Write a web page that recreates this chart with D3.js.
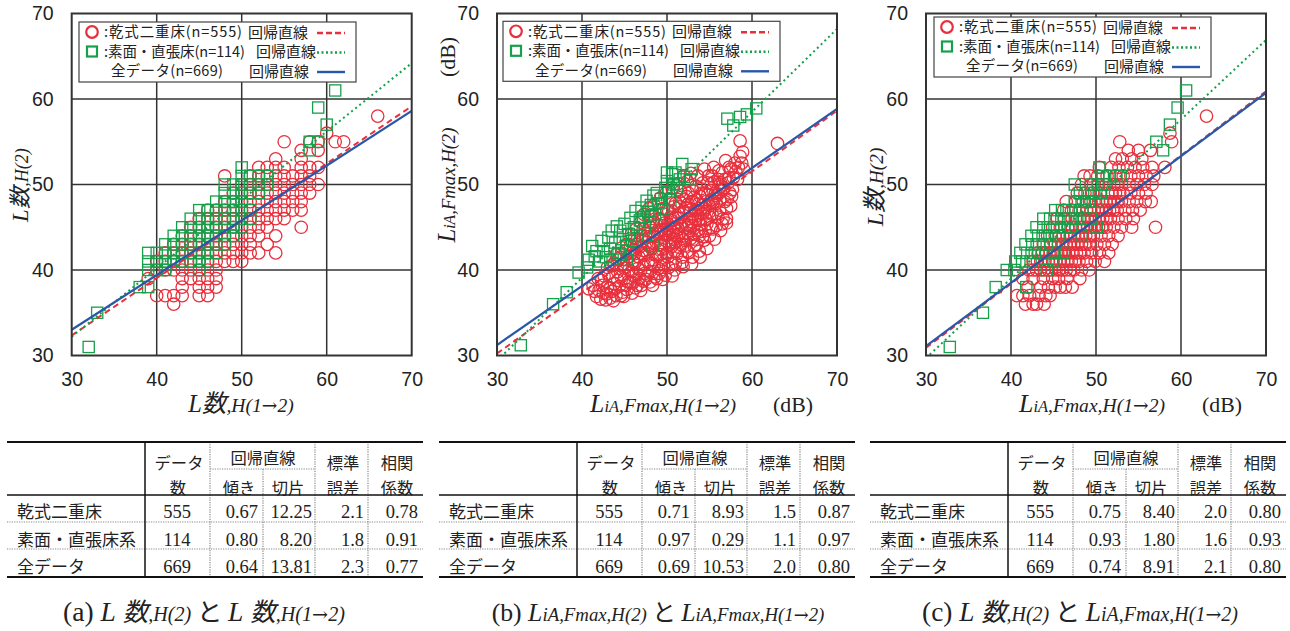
<!DOCTYPE html>
<html><head><meta charset="utf-8">
<script src="https://cdn.jsdelivr.net/npm/d3@7"></script>
<style>
body{margin:0;background:#fff;}
svg{display:block;}
text{white-space:pre;}
</style></head><body>
<svg id="c" width="1290" height="631"></svg>
<script>
// ---------------- DATA ----------------
const ticks = [30, 40, 50, 60, 70];
const groups = ["乾式二重床", "素面・直張床系", "全データ"];
const legendNames = [":乾式二重床(n=555)", ":素面・直張床(n=114)", "全データ(n=669)"];
const lineLabel = "回帰直線";
const counts = [555, 114, 669];

const slopeA = [0.67, 0.80, 0.64], interceptA = [12.25, 8.20, 13.81], seA = [2.1, 1.8, 2.3], rA = [0.78, 0.91, 0.77];
const slopeB = [0.71, 0.97, 0.69], interceptB = [8.93, 0.29, 10.53], seB = [1.5, 1.1, 2.0], rB = [0.87, 0.97, 0.80];
const slopeC = [0.75, 0.93, 0.74], interceptC = [8.40, 1.80, 8.91], seC = [2.0, 1.6, 2.1], rC = [0.80, 0.93, 0.80];

// (a) integer grid: [x, [y values]]
const redA_cols = [
 [39,[39]],[40,[37,40,41]],[41,[37,40,41,42]],[42,[36,37,40,41,42,43]],
 [43,[37,38,39,40,41,42,43,44]],[44,[39,40,41,42,43,44,45]],
 [45,[37,38,39,40,41,42,43,44,45,46]],[46,[37,38,39,40,41,42,43,44,45,46,47]],
 [47,[38,39,40,41,42,43,44,45,46,47]],[48,[41,42,43,44,45,46,47,48,51]],
 [49,[41,42,43,44,45,46,47,48,49]],[50,[41,42,43,44,45,46,47,48,49,50]],
 [51,[42,43,44,45,46,47,48,49,50,51]],[52,[42,44,45,46,47,48,49,50,51,52]],
 [53,[43,45,46,47,48,49,50,51,52]],[54,[42,44,46,47,48,49,50,51,52,53]],
 [55,[46,47,48,49,50,51,52,55]],[56,[47,48,49,50,51]],
 [57,[45,47,48,49,50,51,52,53,54]],[58,[49,50,51,52,55]],[59,[50,52,54,55]],
 [60,[56]],[61,[55]],[62,[55]],[66,[58]]
];
const greenA_cols = [
 [32,[31]],[33,[35]],[38,[38]],[39,[38,40,41,42]],[40,[40,41,42]],[41,[40,41,42,43]],
 [42,[41,42,43,44]],[43,[41,42,43,44,45]],[44,[41,42,43,44,45,46]],
 [45,[40,41,42,43,44,45,46,47]],[46,[41,42,43,44,45,46,47]],[47,[42,43,44,45,46,47,48]],
 [48,[43,44,45,46,47,48,49,50]],[49,[44,45,46,47,48,49,50]],[50,[45,46,47,48,49,50,51,52]],
 [51,[46,47,49,50,51]],[52,[49,50,51]],[53,[50,51]],[58,[54,55]],[59,[55,59]],[60,[57]],[61,[61]]
];

// (b) continuous [x, y]
const redB = [
[40.8,37.8],[41.3,38.2],[41.7,36.9],[41.9,39.0],[42.0,37.6],[42.3,38.8],[42.5,37.3],[42.6,39.3],[42.8,36.5],[43.0,38.0],[43.1,39.6],[43.3,36.7],[43.5,37.5],[43.6,39.2],[43.8,38.4],[44.0,37.0],[44.2,39.8],[44.3,41.3],[44.4,38.1],[44.6,40.5],[44.8,37.4],[44.9,40.7],[45.0,39.0],[45.2,41.2],[45.3,37.7],[45.4,38.6],[45.5,40.0],[45.6,41.6],[45.7,38.6],[45.9,42.0],[46.0,39.4],[46.1,42.4],[46.2,40.8],[46.3,37.9],[46.4,43.0],[46.5,38.2],[46.6,40.2],[46.7,41.5],[46.9,39.9],[47.0,44.0],[47.1,43.4],[47.2,42.3],[47.3,40.6],[47.4,41.7],[47.5,38.9],[47.6,43.2],[47.7,39.4],[47.8,41.0],[47.9,42.8],[48.0,45.0],[48.0,39.8],[48.1,46.4],[48.2,42.5],[48.3,41.2],[48.4,44.0],[48.5,40.5],[48.6,43.9],[48.7,43.3],[48.8,45.2],[48.9,41.6],[49.0,46.0],[49.0,40.2],[49.1,39.6],[49.2,43.0],[49.3,44.7],[49.4,42.4],[49.5,41.2],[49.6,40.6],[49.6,47.2],[49.7,45.5],[49.8,44.1],[49.9,43.4],[50.0,47.0],[50.0,42.0],[50.1,41.5],[50.2,44.2],[50.3,43.0],[50.3,48.3],[50.4,46.2],[50.5,42.7],[50.6,40.8],[50.7,44.4],[50.8,45.0],[50.9,43.6],[51.0,47.8],[51.0,43.2],[51.1,45.5],[51.2,41.9],[51.3,44.8],[51.4,46.6],[51.5,42.6],[51.6,43.0],[51.6,49.2],[51.7,48.5],[51.8,40.9],[51.9,46.9],[52.0,45.6],[52.0,43.5],[52.1,44.0],[52.2,47.3],[52.3,45.0],[52.4,42.2],[52.4,50.4],[52.5,49.0],[52.6,46.0],[52.7,44.6],[52.8,43.7],[52.9,48.0],[53.0,41.5],[53.0,46.3],[53.1,45.2],[53.2,44.2],[53.3,47.0],[53.4,49.8],[53.5,43.0],[53.6,46.4],[53.6,51.0],[53.7,45.8],[53.8,42.2],[53.9,48.6],[54.0,44.5],[54.0,46.0],[54.1,47.6],[54.2,50.2],[54.3,46.9],[54.4,43.5],[54.4,51.8],[54.5,49.0],[54.6,48.0],[54.7,45.4],[54.9,51.0],[55.0,44.0],[55.0,46.8],[55.1,49.3],[55.2,48.2],[55.3,46.5],[55.4,47.8],[55.5,52.0],[55.6,50.3],[55.7,49.0],[55.8,45.2],[55.9,48.7],[56.0,48.9],[56.1,51.6],[56.2,47.0],[56.3,50.2],[56.4,49.8],[56.6,46.0],[56.8,50.6],[56.9,52.8],[57.0,46.0],[57.1,48.3],[57.2,50.2],[57.3,52.0],[57.5,51.8],[57.7,49.4],[58.0,52.5],[58.3,50.6],[58.6,53.3],[58.6,55.1],[58.8,52.5],[59.0,51.8],[63.0,54.8],
[43.5,40.5],[44.0,41.8],[44.7,42.6],[45.3,43.0],[45.8,44.2],[46.4,44.8],[46.9,45.6],[47.3,46.5],[47.9,47.2],[48.5,47.6],[49.2,48.4],[49.9,49.0],[50.6,49.6],[51.3,50.1],[52.0,51.0],[52.8,51.3],
[46.0,38.5],[47.0,38.2],[48.0,38.6],[48.8,39.0],[49.8,39.4],[50.9,40.0],[51.9,40.4],[52.9,40.7],[53.9,41.5],[54.7,42.5],[55.6,43.6],[56.3,44.6],[57.0,45.5],
[45.0,40.2],[46.0,41.0],[47.0,41.9],[47.9,43.9],[48.4,45.6],[49.0,44.5],[49.5,45.8],[50.0,44.8],[50.5,45.8],[51.0,46.2],[51.5,47.4],[52.0,48.2],[52.5,47.7],[53.0,49.3],[53.5,48.2],[54.0,49.5],[54.8,50.2],[55.3,51.0],[56.5,51.4],[57.8,50.8],[57.5,47.5],[56.8,48.0],[56.0,46.2],[55.2,45.0],[54.5,44.6],[53.8,44.0],[53.2,42.8],[52.5,42.0],[51.8,41.5],[51.0,40.8],[50.2,40.3],[49.3,40.0],[48.6,39.2],[47.4,39.6],[46.7,39.0],[45.8,39.8],[44.6,39.2],[43.9,37.8],[42.9,37.2],[42.2,36.6],[43.7,36.4],[44.9,36.9],[46.9,37.6],[48.1,40.8],[49.2,41.8],[50.4,43.8],[51.4,44.2],[52.6,45.2],[53.4,45.9],[54.2,46.6],[55.0,47.5],[55.8,47.8],[56.6,49.4],[57.4,49.0],[58.1,51.5],[58.9,53.8],[58.4,52.0],
[46.2,41.9],[46.5,43.6],[46.8,42.7],[47.2,44.8],[47.5,43.9],[47.7,42.0],[47.9,45.6],[48.2,44.6],[48.4,43.1],[48.6,41.8],[48.9,44.2],[49.1,45.9],[49.3,42.9],[49.5,46.6],[49.7,44.6],[49.9,41.9],[50.1,45.4],[50.2,46.9],[50.4,44.9],[50.6,43.3],[50.8,47.4],[50.9,42.2],[51.1,44.0],[51.3,46.1],[51.5,48.0],[51.7,45.1],[51.8,43.7],[52.0,46.7],[52.2,42.9],[52.3,48.6],[52.5,44.3],[52.7,47.0],[52.9,45.6],[53.1,43.6],[53.2,48.5],[53.4,46.9],[53.5,44.6],[53.7,47.7],[53.9,45.3],[54.1,49.0],[54.2,43.9],[54.4,47.2],[54.6,45.9],[54.8,48.8],[55.0,46.2],[55.2,50.1],[55.4,44.8],[55.6,48.4],[55.8,46.6],[56.0,50.6],[56.2,48.1],[56.5,45.4],[56.7,49.6],[57.0,47.2],[57.3,50.8],[57.6,48.6],[43.0,40.3],[43.8,40.8],[44.5,41.5],[45.1,42.2],[45.7,42.9],[46.2,43.7],[44.2,38.8],[45.2,38.2],[46.4,39.6],[47.2,38.7],[48.3,38.2],[49.5,38.9],[50.6,39.3],[42.4,38.2],[41.5,37.5],[43.3,37.9],[44.6,37.0],[45.9,37.3]
];
const greenB = [
[32.8,31.2],[36.6,36.0],[38.2,37.4],[39.6,39.7],[40.6,40.3],[40.8,41.2],[41.2,42.8],[41.5,41.6],[41.7,42.2],[42.0,41.0],[42.3,43.4],[42.5,42.2],[42.8,41.5],[43.1,43.8],[43.3,42.5],[43.5,44.6],[43.6,41.2],[43.9,43.2],[44.1,45.1],[44.3,42.0],[44.5,44.6],[44.6,41.8],[44.8,43.6],[45.0,45.4],[45.2,42.8],[45.3,41.2],[45.5,44.2],[45.7,46.1],[45.9,43.4],[46.1,45.0],[46.3,46.9],[46.5,44.0],[46.8,45.8],[47.0,47.3],[47.2,46.2],[47.4,44.9],[47.6,48.1],[47.8,46.8],[48.0,45.6],[48.1,47.6],[48.4,48.7],[48.3,42.8],[48.6,46.5],[48.8,49.0],[49.0,47.8],[49.3,48.3],[49.6,47.1],[49.8,49.6],[50.0,50.4],[50.0,51.4],[50.2,49.2],[50.4,48.2],[50.6,51.2],[50.8,50.0],[51.0,51.4],[51.2,49.6],[51.5,50.6],[51.8,52.4],[52.0,50.9],[52.7,50.6],[52.9,51.8],[57.1,57.7],[57.8,56.9],[58.6,57.9],[59.4,58.2],[60.5,58.9]
];

// (c) y integer rows: [y, [x values]]
const redC_rows = [
 [36,[41.7,42.6,43.0,43.9]],[37,[40.7,41.4,42.2,43.3,44.1,44.6]],
 [38,[42.0,43.5,44.4,45.2,45.8,46.4,47.2]],[39,[41.4,42.6,43.8,44.9,45.6,46.6,48.1]],
 [40,[42.1,42.6,43.0,43.5,43.9,44.4,44.8,45.3,45.7,46.1,46.5,47.0,47.4,48.3,49.2]],
 [41,[42.6,43.1,43.5,44.0,44.4,44.9,45.3,45.8,46.2,46.7,47.1,47.6,48.0,48.9,49.9,51.0]],
 [42,[43.2,43.7,44.1,44.6,45.0,45.5,45.9,46.4,46.8,47.3,47.7,48.2,48.6,49.5,50.4,51.5]],
 [43,[43.8,44.7,45.2,45.6,46.1,46.5,47.0,47.4,47.9,48.3,48.8,49.2,50.1,51.0,51.9]],
 [44,[44.3,45.2,45.7,46.1,46.6,47.0,47.5,47.9,48.4,48.8,49.3,49.7,50.6,51.5,52.6]],
 [45,[44.9,45.8,46.7,47.2,47.6,48.1,48.5,49.0,49.4,49.9,50.3,50.8,51.2,52.1,53.0,54.2,57.0]],
 [46,[45.4,46.3,47.2,48.1,48.6,49.0,49.5,49.9,50.4,50.8,51.3,51.7,52.6,53.5,54.4]],
 [47,[46.2,47.1,48.0,48.9,49.4,49.8,50.3,50.7,51.2,51.6,52.1,52.5,53.4,54.3,55.2]],
 [48,[46.5,47.6,48.5,49.4,50.3,50.8,51.2,51.7,52.1,52.6,53.0,53.9,54.8,55.8,56.5]],
 [49,[47.8,48.7,49.6,50.5,51.4,51.9,52.3,52.8,53.2,54.1,55.0,55.9]],
 [50,[48.3,49.4,50.3,51.2,52.1,52.6,53.0,53.9,54.8,55.7,56.6]],
 [51,[48.6,49.3,50.2,51.3,52.3,53.2,54.1,55.0,55.9,56.8]],
 [52,[50.4,51.8,52.7,53.7,54.6,55.5,56.6,58.1]],
 [53,[52.3,53.1,54.2,55.4]],[54,[53.8,55.0,56.4]],[55,[52.8,58.9]],[56,[58.7]],[58,[63.0]]
];
const greenC = [
[32.8,31],[36.7,35],[38.2,38],[39.5,40],[40.4,40],[41.8,38],[40.5,41],[41.3,41],[42.3,41],[41.1,42],[41.9,42],[42.8,42],[43.6,42],[41.7,43],[42.5,43],[43.3,43],[44.2,43],[42.4,44],[43.2,44],[44.0,44],[44.8,44],[45.6,44],[43.0,45],[43.8,45],[44.6,45],[45.4,45],[46.3,45],[47.0,45],[50.1,45],[43.8,46],[44.6,46],[45.4,46],[46.2,46],[47.0,46],[47.8,46],[48.6,46],[49.4,46],[45.2,47],[46.0,47],[46.8,47],[47.6,47],[48.4,47],[44.2,40],[45.0,41],[46.2,42],[45.2,42],[44.6,43],[48.3,44],[47.5,48],[48.3,48],[49.2,48],[50.0,48],[48.1,49],[49.0,49],[49.8,49],[50.6,49],[47.5,50],[49.4,50],[50.2,50],[51.0,50],[51.6,51],[52.4,51],[52.9,51],[50.8,51],[50.4,52],[57.1,55],[57.9,54],[58.7,57],[59.6,59],[60.6,61]
];

// ---------------- RENDER ----------------
const redA = redA_cols.flatMap(([x, ys]) => ys.map(y => [x, y]));
const greenA = greenA_cols.flatMap(([x, ys]) => ys.map(y => [x, y]));
const redC = redC_rows.flatMap(([y, xs]) => xs.map(x => [x, y]));

const serif = "'Liberation Serif','Times New Roman',serif";
const cjk = "'Noto Sans CJK JP','Noto Sans CJK SC',sans-serif";
const sans = "'Liberation Sans',Arial,sans-serif";
const arrowFont = "'DejaVu Serif',serif";
const RED = "#e8303d", GREEN = "#15a04a", BLUE = "#2a58a8";
const lineColors = [RED, GREEN, BLUE];
const lineDash = ["6,4", "2,3.2", null];

const svg = d3.select("#c");
const PT = 13.5, PB = 355.5, PW = 340;

function fit(t, target) {
  const w = t.node().getBBox().width;
  if (!w) return t;
  const k = target / w;
  const ts = t.selectAll("tspan");
  if (ts.size()) ts.each(function () { this.setAttribute("font-size", (+this.getAttribute("font-size")) * k); });
  else t.attr("font-size", (+t.attr("font-size")) * k);
  return t;
}

function rich(g, x, y, parts, opts = {}) {
  const t = g.append("text").attr("x", x).attr("y", y)
    .attr("text-anchor", opts.anchor || "middle").attr("fill", "#222");
  if (opts.rotate) t.attr("transform", `rotate(-90,${x},${y})`);
  parts.forEach(p => {
    p[0].split(/(→)/).filter(s => s.length).forEach(s => {
      const isA = s === "→";
      t.append("tspan").text(s).attr("font-size", isA ? p[1] * 0.95 : p[1])
        .attr("font-family", isA ? arrowFont : p[2])
        .attr("font-style", (p[3] && !isA) ? "italic" : "normal");
    });
  });
  if (opts.width) fit(t, opts.width);
  return t;
}

const xTA = [["L",25,serif,1],["数",25,cjk,1],[",H(1→2)",20,serif,1]];
const yTA = [["L",25,serif,1],["数",25,cjk,1],[",H(2)",20,serif,1]];
const xTB = [["L",25,serif,1],["iA",16,serif,1],[",Fmax,H(1→2)",19,serif,1]];
const yTB = [["L",25,serif,1],["iA",16,serif,1],[",Fmax,H(2)",19,serif,1]];

const panels = [
  { id: "a", left: 71.7, red: redA, green: greenA, slope: slopeA, icpt: interceptA, se: seA, r: rA,
    leg: [7.3, 8.5], tab: 7, capX: 204, capW: 282,
    xT: [241, xTA, 107], xDB: null, yT: [28, 185, yTA, 75], yDB: null,
    cap: [["(a) ",26,serif,0],["L",26,serif,1],[" ",26,serif,0],["数",24,cjk,1],[",H(2)",19,serif,1],[" と ",24,cjk,0],["L",26,serif,1],[" ",26,serif,0],["数",24,cjk,1],[",H(1→2)",19,serif,1]] },
  { id: "b", left: 497, red: redB, green: greenB, slope: slopeB, icpt: interceptB, se: seB, r: rB,
    leg: [6, 7.8], tab: 439, capX: 658, capW: 333,
    xT: [663, xTB, 147], xDB: 793, yT: [455, 185, yTB, 116], yDB: [455, 57],
    cap: [["(b) ",26,serif,0],["L",26,serif,1],["iA,Fmax,H(2)",19,serif,1],[" と ",24,cjk,0],["L",26,serif,1],["iA,Fmax,H(1→2)",19,serif,1]] },
  { id: "c", left: 926, red: redC, green: greenC, slope: slopeC, icpt: interceptC, se: seC, r: rC,
    leg: [8, 3.5], tab: 870, capX: 1080, capW: 316,
    xT: [1092, xTB, 147], xDB: 1222, yT: [883, 187, yTA, 80], yDB: null,
    cap: [["(c) ",26,serif,0],["L",26,serif,1],[" ",26,serif,0],["数",24,cjk,1],[",H(2)",19,serif,1],[" と ",24,cjk,0],["L",26,serif,1],["iA,Fmax,H(1→2)",19,serif,1]] }
];

const rowY = [10, 29.5, 49], tx1 = [25, 25, 32], tx2 = [169, 177, 170];
const txLen1 = [138, 141, 112];

panels.forEach(p => {
  const x = d3.scaleLinear().domain([30, 70]).range([p.left, p.left + PW]);
  const y = d3.scaleLinear().domain([30, 70]).range([PB, PT]);
  const g = svg.append("g");

  ticks.slice(1, -1).forEach(v => {
    g.append("line").attr("x1", x(v)).attr("x2", x(v)).attr("y1", PT).attr("y2", PB)
      .attr("stroke", "#333").attr("stroke-width", 1.5);
    g.append("line").attr("x1", p.left).attr("x2", p.left + PW).attr("y1", y(v)).attr("y2", y(v))
      .attr("stroke", "#333").attr("stroke-width", 1.5);
  });

  const ya = g.append("g").attr("transform", `translate(${p.left},0)`)
    .call(d3.axisLeft(y).tickValues(ticks).tickSize(0).tickPadding(18));
  ya.select(".domain").remove();
  ya.selectAll("text").attr("font-size", 19.5).attr("font-family", sans).attr("fill", "#222");
  const xa = g.append("g").attr("transform", `translate(0,${PB})`)
    .call(d3.axisBottom(x).tickValues(ticks).tickSize(0).tickPadding(17));
  xa.select(".domain").remove();
  xa.selectAll("text").attr("font-size", 19.5).attr("font-family", sans).attr("fill", "#222");

  const cid = "clip" + p.id;
  svg.append("clipPath").attr("id", cid).append("rect")
    .attr("x", p.left).attr("y", PT).attr("width", PW).attr("height", PB - PT);
  const pg = g.append("g").attr("clip-path", `url(#${cid})`);

  pg.selectAll("circle.r").data(p.red).join("circle").attr("class", "r")
    .attr("cx", d => x(d[0])).attr("cy", d => y(d[1])).attr("r", 6.2)
    .attr("fill", "none").attr("stroke", RED).attr("stroke-width", 1.3);
  pg.selectAll("rect.g").data(p.green).join("rect").attr("class", "g")
    .attr("x", d => x(d[0]) - 5.6).attr("y", d => y(d[1]) - 5.6).attr("width", 11.2).attr("height", 11.2)
    .attr("fill", "none").attr("stroke", GREEN).attr("stroke-width", 1.3);

  [0, 1, 2].forEach(i => {
    const l = pg.append("line")
      .attr("x1", x(30)).attr("y1", y(p.slope[i] * 30 + p.icpt[i]))
      .attr("x2", x(70)).attr("y2", y(p.slope[i] * 70 + p.icpt[i]))
      .attr("stroke", lineColors[i]).attr("stroke-width", i === 2 ? 2.2 : 2);
    if (lineDash[i]) l.attr("stroke-dasharray", lineDash[i]);
  });

  g.append("rect").attr("x", p.left).attr("y", PT).attr("width", PW).attr("height", PB - PT)
    .attr("fill", "none").attr("stroke", "#333").attr("stroke-width", 2);

  // legend
  const lx = p.left + p.leg[0], ly = PT + p.leg[1];
  g.append("rect").attr("x", lx).attr("y", ly).attr("width", 277).attr("height", 60)
    .attr("fill", "#fff").attr("stroke", "#444").attr("stroke-width", 1.2);
  groups.forEach((gname, i) => {
    const cy = ly + rowY[i];
    if (i === 0) g.append("circle").attr("cx", lx + 13).attr("cy", cy).attr("r", 5.8)
      .attr("fill", "none").attr("stroke", RED).attr("stroke-width", 2.2);
    if (i === 1) g.append("rect").attr("x", lx + 8).attr("y", cy - 5).attr("width", 10).attr("height", 10)
      .attr("fill", "none").attr("stroke", GREEN).attr("stroke-width", 2.2);
    g.append("text").attr("x", lx + tx1[i]).attr("y", cy + 5.3).attr("font-size", 14.5)
      .attr("font-family", cjk).attr("fill", "#222")
      .attr("textLength", txLen1[i]).attr("lengthAdjust", "spacing").text(legendNames[i]);
    g.append("text").attr("x", lx + tx2[i]).attr("y", cy + 5.5).attr("font-size", 15)
      .attr("font-family", cjk).attr("fill", "#222").text(lineLabel);
    const ll = g.append("line").attr("x1", lx + 238).attr("x2", lx + 266).attr("y1", cy + 1).attr("y2", cy + 1)
      .attr("stroke", lineColors[i]).attr("stroke-width", 2.4);
    if (lineDash[i]) ll.attr("stroke-dasharray", i === 0 ? "6,3" : "2,2.5");
  });

  // axis titles
  rich(g, p.xT[0], 412, p.xT[1], { width: p.xT[2] });
  if (p.xDB) rich(g, p.xDB, 412, [["(dB)", 23, serif, 0]], { width: 40 });
  rich(g, p.yT[0], p.yT[1], p.yT[2], { rotate: true, width: p.yT[3] });
  if (p.yDB) rich(g, p.yDB[0], p.yDB[1], [["(dB)", 23, serif, 0]], { rotate: true, width: 40 });

  // table
  const L = p.tab, X = v => L + v;
  const tg = svg.append("g");
  const solid = (x1, y1, x2, y2, w) => tg.append("line").attr("x1", x1).attr("y1", y1).attr("x2", x2).attr("y2", y2)
    .attr("stroke", "#111").attr("stroke-width", w);
  const dot = (x1, y1, x2, y2) => tg.append("line").attr("x1", x1).attr("y1", y1).attr("x2", x2).attr("y2", y2)
    .attr("stroke", "#888").attr("stroke-width", 1.2).attr("stroke-dasharray", "1.2,1.2");
  dot(X(203), 469, X(308), 469);
  dot(X(0), 522, X(416), 522); dot(X(0), 549, X(416), 549);
  dot(X(203), 442, X(203), 577); dot(X(256), 469, X(256), 577);
  dot(X(308), 442, X(308), 577); dot(X(361), 442, X(361), 577);
  solid(X(0), 442, X(416), 442, 2.2);
  solid(X(0), 495, X(416), 495, 1.6);
  solid(X(0), 577, X(416), 577, 2.2);
  solid(X(138), 442, X(138), 577, 1.5);
  const jt = (x0, yc, s, anchor = "middle", fam = cjk, size = 17) =>
    tg.append("text").attr("x", x0).attr("y", yc + 6).attr("text-anchor", anchor)
      .attr("font-size", size).attr("font-family", fam).attr("fill", "#222").text(s);
  const H1 = 463, H2 = 488, HS = 16.3;
  jt(X(172), H1, "データ", "middle", cjk, HS); jt(X(171), H2, "数", "middle", cjk, HS);
  jt(X(256), 458, "回帰直線", "middle", cjk, HS);
  jt(X(232), H2, "傾き", "middle", cjk, HS); jt(X(281), H2, "切片", "middle", cjk, HS);
  jt(X(336), H1, "標準", "middle", cjk, HS); jt(X(336), H2, "誤差", "middle", cjk, HS);
  jt(X(390), H1, "相関", "middle", cjk, HS); jt(X(390), H2, "係数", "middle", cjk, HS);
  const rowC = [512, 540, 567];
  groups.forEach((gn, i) => {
    jt(X(10), rowC[i], gn, "start");
    jt(X(170), rowC[i], String(counts[i]), "middle", serif, 18.5);
    jt(X(251), rowC[i], p.slope[i].toFixed(2), "end", serif, 18.5);
    jt(X(305), rowC[i], p.icpt[i].toFixed(2), "end", serif, 18.5);
    jt(X(357), rowC[i], p.se[i].toFixed(1), "end", serif, 18.5);
    jt(X(411), rowC[i], p.r[i].toFixed(2), "end", serif, 18.5);
  });

  rich(svg, p.capX, 621, p.cap, { width: p.capW });
});
</script>
</body></html>
